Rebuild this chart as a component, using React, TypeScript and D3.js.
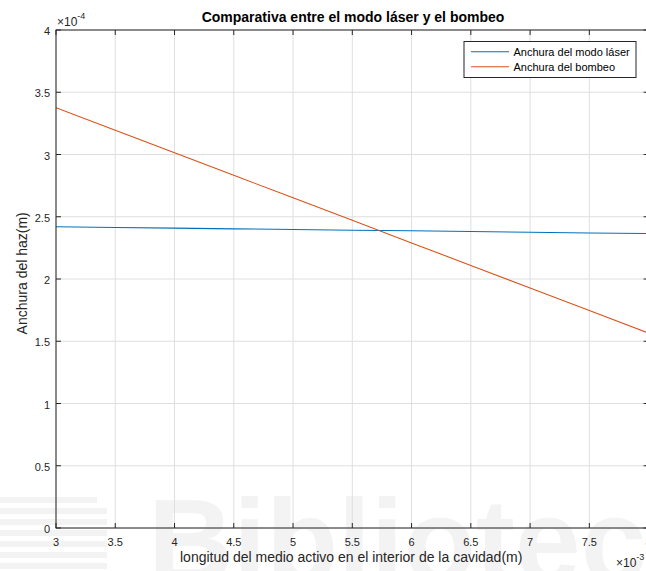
import React from "react";
import * as d3 from "d3";

const X_VALUES = [3, 3.5, 4, 4.5, 5, 5.5, 6, 6.5, 7, 7.5, 8];
const LASER_WIDTH = [2.42, 2.414, 2.409, 2.403, 2.398, 2.392, 2.387, 2.381, 2.376, 2.37, 2.365];
const PUMP_WIDTH = [3.376, 3.195, 3.014, 2.833, 2.652, 2.471, 2.29, 2.109, 1.928, 1.747, 1.566];
const X_TICKS = [3, 3.5, 4, 4.5, 5, 5.5, 6, 6.5, 7, 7.5, 8];
const Y_TICKS = [0, 0.5, 1, 1.5, 2, 2.5, 3, 3.5, 4];
const SERIES_NAMES = ["Anchura del modo láser", "Anchura del bombeo"];
const SERIES_COLORS = ["#0072BD", "#D95319"];

const W = 646;
const H = 571;
const FONT = "'Liberation Sans', Arial, Helvetica, sans-serif";
const AX = "#262626";

export default function App() {
  const left = 56, right = 648.6, top = 30, bottom = 528;
  const x = d3.scaleLinear().domain([3, 8]).range([left, right]);
  const y = d3.scaleLinear().domain([0, 4]).range([bottom, top]);
  const line = d3
    .line<number>()
    .x((_, i) => x(X_VALUES[i]))
    .y((d) => y(d));
  const series = [LASER_WIDTH, PUMP_WIDTH];
  const tl = 5;

  return (
    <svg
      width={W}
      height={H}
      style={{ position: "absolute", left: 0, top: 0, background: "#fff" }}
      fontFamily={FONT}
    >
      <rect x={0} y={0} width={W} height={H} fill="#fff" />
      {/* watermark */}
      <g fill="#f3f3f3">
        {[0, 1, 2, 3, 4, 5, 6].map((i) => (
          <rect key={i} x={0} y={497 + i * 11} width={107 - (i === 0 ? 10 : 0)} height={6} />
        ))}
        <text x={148} y={582} fontSize={118} fontWeight="bold" fontFamily={FONT}>
          Biblioteca
        </text>
      </g>
      <defs>
        <clipPath id="plotclip">
          <rect x={left} y={top} width={right - left} height={bottom - top} />
        </clipPath>
      </defs>
      {/* grid */}
      <g stroke="#dfdfdf" strokeWidth={1}>
        {X_TICKS.map((t) => (
          <line key={"gx" + t} x1={x(t)} x2={x(t)} y1={top} y2={bottom} />
        ))}
        {Y_TICKS.map((t) => (
          <line key={"gy" + t} x1={left} x2={right} y1={y(t)} y2={y(t)} />
        ))}
      </g>
      {/* data */}
      <g clipPath="url(#plotclip)" fill="none" strokeWidth={1.1}>
        {series.map((s, i) => (
          <path key={i} d={line(s) || ""} stroke={SERIES_COLORS[i]} />
        ))}
      </g>
      {/* axes box */}
      <rect x={left} y={top} width={right - left} height={bottom - top} fill="none" stroke={AX} strokeWidth={1} />
      <g stroke={AX} strokeWidth={1}>
        {X_TICKS.map((t) => (
          <g key={"tx" + t}>
            <line x1={x(t)} x2={x(t)} y1={bottom} y2={bottom - tl} />
            <line x1={x(t)} x2={x(t)} y1={top} y2={top + tl} />
          </g>
        ))}
        {Y_TICKS.map((t) => (
          <g key={"ty" + t}>
            <line x1={left} x2={left + tl} y1={y(t)} y2={y(t)} />
            <line x1={right} x2={right - tl} y1={y(t)} y2={y(t)} />
          </g>
        ))}
      </g>
      {/* tick labels */}
      <g fill={AX} fontSize={11}>
        {X_TICKS.map((t) => (
          <text key={"lx" + t} x={x(t)} y={bottom + 17.5} textAnchor="middle">
            {String(t)}
          </text>
        ))}
        {Y_TICKS.map((t) => (
          <text key={"ly" + t} x={left - 6} y={y(t) + 5} textAnchor="end">
            {String(t)}
          </text>
        ))}
        <text x={57} y={26} fontSize={12}>
          ×10<tspan fontSize={9} dy={-7}>-4</tspan>
        </text>
        <text x={616} y={567} fontSize={12}>
          ×10<tspan fontSize={9} dy={-7}>-3</tspan>
        </text>
      </g>
      {/* labels */}
      <text x={351.2} y={561.5} textAnchor="middle" fontSize={14} fill={AX}>
        longitud del medio activo en el interior de la cavidad(m)
      </text>
      <text
        transform={`translate(${27},${273.3}) rotate(-90)`}
        textAnchor="middle"
        fontSize={14}
        fill={AX}
      >
        Anchura del haz(m)
      </text>
      <text x={353} y={21.5} textAnchor="middle" fontSize={14} fontWeight="bold" fill="#000">
        Comparativa entre el modo láser y el bombeo
      </text>
      {/* legend */}
      <g>
        <rect x={464} y={41.5} width={172} height={36} fill="#fff" stroke={AX} strokeWidth={1} />
        {SERIES_NAMES.map((n, i) => (
          <g key={n}>
            <line x1={471} x2={509} y1={51.7 + i * 15} y2={51.7 + i * 15} stroke={SERIES_COLORS[i]} strokeWidth={1.1} />
            <text x={513.5} y={51.7 + i * 15 + 4} fontSize={11} fill="#000">
              {n}
            </text>
          </g>
        ))}
      </g>
    </svg>
  );
}
